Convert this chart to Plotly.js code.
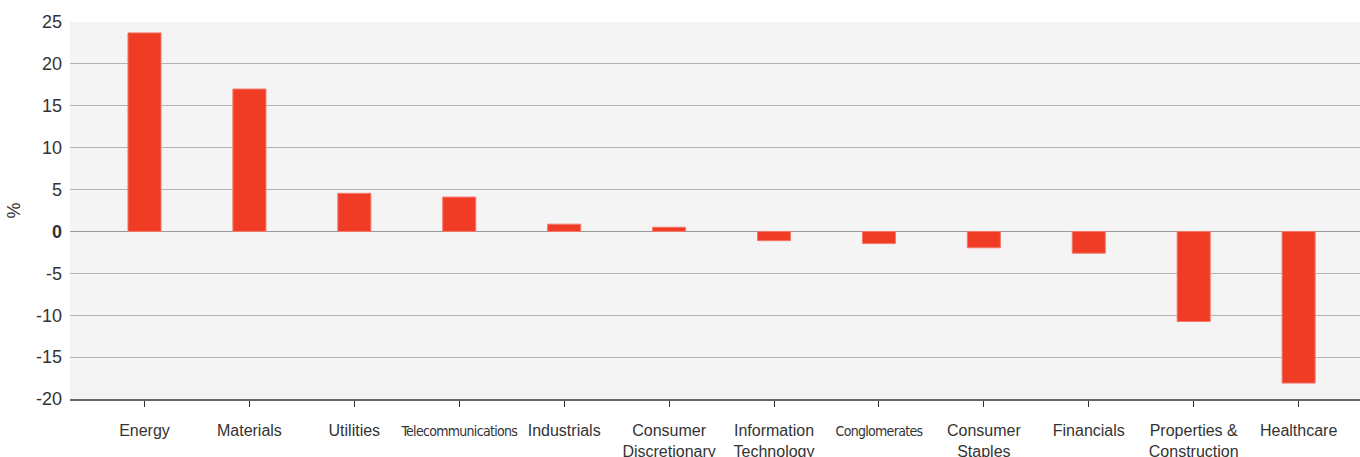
<!DOCTYPE html>
<html>
<head>
<meta charset="utf-8">
<script src="https://cdn.plot.ly/plotly-3.0.1.min.js"></script>
<style>html,body{margin:0;padding:0;background:#fff;}#chart{width:1360px;height:457px;}</style>
</head>
<body>
<div id="chart"></div>
<script>
const categories = ["Energy","Materials","Utilities","Telecommunications","Industrials","Consumer Discretionary","Information Technology","Conglomerates","Consumer Staples","Financials","Properties & Construction","Healthcare"];
const tickLabels = ["Energy","Materials","Utilities","<span style=\"font-family:'DejaVu Sans Condensed','Liberation Sans';font-size:14px;letter-spacing:-0.7px\">Telecommunications</span>","Industrials","Consumer<br>Discretionary","Information<br>Technology","<span style=\"font-family:'DejaVu Sans Condensed','Liberation Sans';font-size:14px;letter-spacing:-0.7px\">Conglomerates</span>","Consumer<br>Staples","Financials","Properties &<br>Construction","Healthcare"];
const values = [23.7, 17.0, 4.55, 4.1, 0.87, 0.5, -1.1, -1.45, -1.95, -2.6, -10.75, -18.1];
const yTicks = [-20,-15,-10,-5,0,5,10,15,20,25];
const yTickText = ["-20","-15","-10","-5","<b>0</b>","5","10","15","20","25"];

const idx = categories.map((c,i)=>i);
const trace = {
  type: 'bar',
  x: idx,
  y: values,
  width: 0.315,
  marker: {color: '#f03c24', line: {color: '#f47a6c', width: 1}},
  hoverinfo: 'skip'
};
const layout = {
  width: 1360, height: 457,
  margin: {l: 70, r: 0, t: 22, b: 58},
  paper_bgcolor: '#ffffff',
  plot_bgcolor: '#f4f4f4',
  font: {family: "'Liberation Sans', Arial, sans-serif", size: 16, color: '#333333'},
  showlegend: false,
  bargap: 0,
  xaxis: {
    range: [-0.71, 11.585],
    tickmode: 'array', tickvals: idx, ticktext: tickLabels,
    ticks: 'outside', ticklen: 6, tickwidth: 1, tickcolor: '#333',
    ticklabelstandoff: 10,
    showgrid: false, zeroline: false,
    showline: true, linecolor: '#666666', linewidth: 2,
    tickfont: {size: 16, color: '#333'},
    tickangle: 0,
    fixedrange: true
  },
  yaxis: {
    range: [-20, 25],
    tickmode: 'array', tickvals: yTicks, ticktext: yTickText,
    showgrid: true, gridcolor: '#b3b3b3', gridwidth: 1,
    zeroline: true, zerolinecolor: '#999999', zerolinewidth: 1.5,
    showline: false, ticks: '',
    tickfont: {size: 18, color: '#333'},
    ticklabelstandoff: 7,
    title: {text: '%', font: {size: 18, color: '#333'}, standoff: 10},
    fixedrange: true
  }
};
Plotly.newPlot('chart', [trace], layout, {displayModeBar: false, staticPlot: true});
</script>
</body>
</html>
